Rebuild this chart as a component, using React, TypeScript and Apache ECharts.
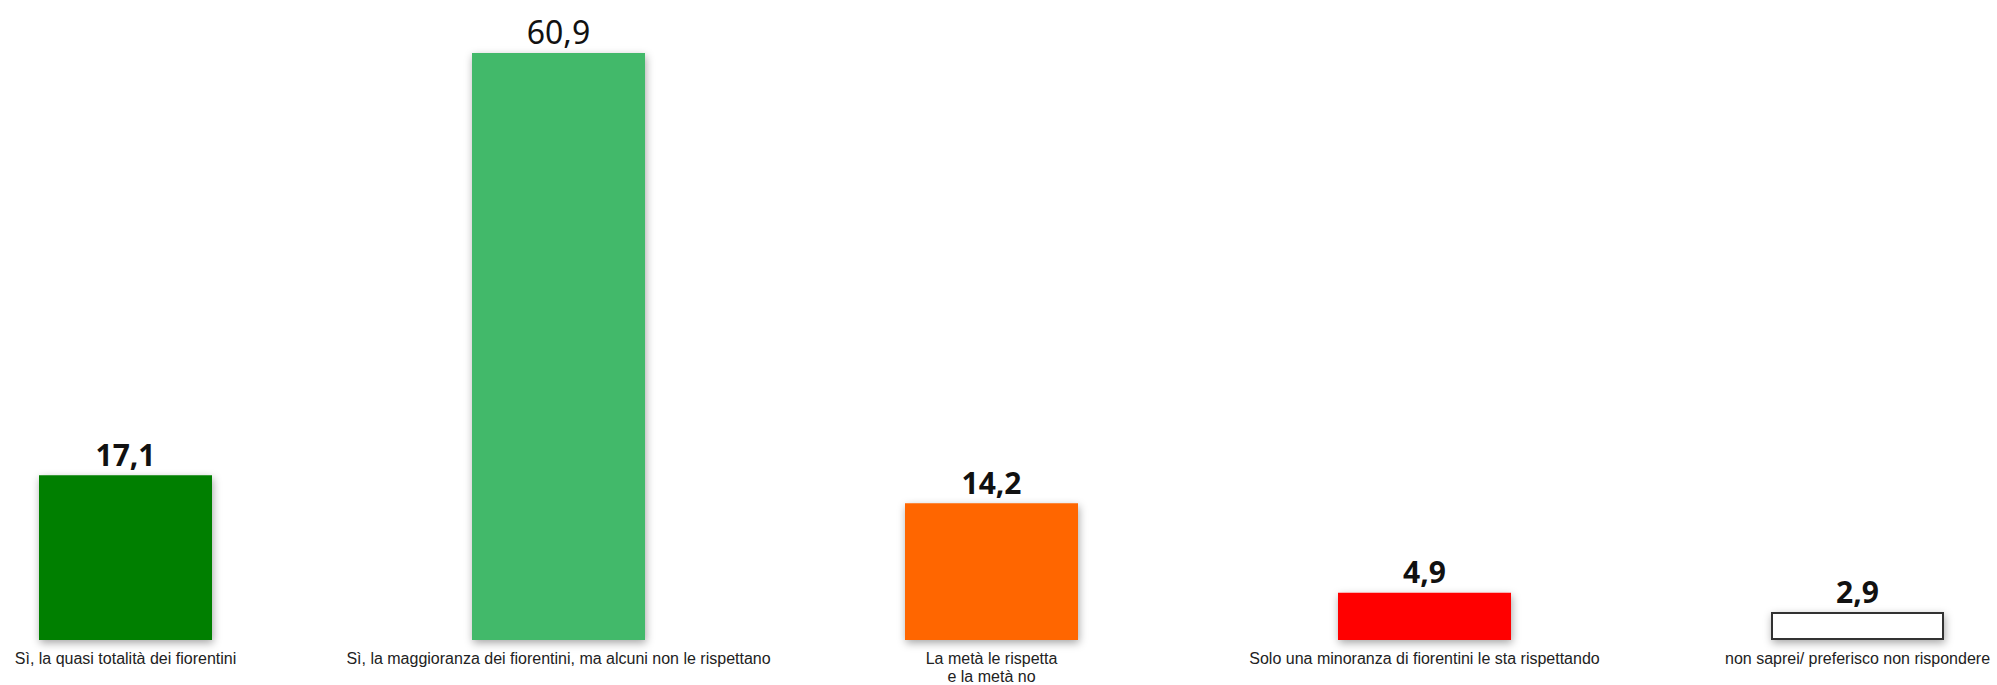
import React, { useEffect, useRef } from "react";
import * as echarts from "echarts";

const categories = [
  "Sì, la quasi totalità dei fiorentini",
  "Sì, la maggioranza dei fiorentini, ma alcuni non le rispettano",
  "La metà le rispetta\ne la metà no",
  "Solo una minoranza di fiorentini le sta rispettando",
  "non saprei/ preferisco non rispondere",
];
const values = [17.1, 60.9, 14.2, 4.9, 2.9];
const colors = ["#007f00", "#43b96b", "#ff6600", "#ff0000", "#ffffff"];

export default function App() {
  const ref = useRef<HTMLDivElement>(null);
  useEffect(() => {
    if (!ref.current) return;
    const chart = echarts.init(ref.current, null, { renderer: "svg" });
    chart.setOption({
      animation: false,
      backgroundColor: "#ffffff",
      grid: { left: 125.5, right: 139.5, top: 0, bottom: 42, containLabel: false },
      xAxis: {
        type: "category",
        data: categories,
        boundaryGap: false,
        axisLine: { show: false },
        axisTick: { show: false },
        axisLabel: {
          interval: 0,
          margin: 9,
          color: "#222",
          fontSize: 16,
          lineHeight: 18,
          fontFamily: "Liberation Sans, Arial, sans-serif",
        },
      },
      yAxis: { type: "value", min: 0, max: 66.4, show: false, splitLine: { show: false } },
      series: [
        {
          type: "bar",
          barWidth: 173,
          data: values.map((v, i) => ({
            value: v,
            itemStyle: {
              color: colors[i],
              borderColor: i === 4 ? "#333333" : undefined,
              borderWidth: i === 4 ? 2 : 0,
              shadowColor: "rgba(0,0,0,0.35)",
              shadowBlur: 8,
              shadowOffsetX: 1,
              shadowOffsetY: 3,
            },
            label: i === 1 ? { fontWeight: "normal", fontSize: 32 } : undefined,
          })),
          label: {
            show: true,
            position: "top",
            distance: 6,
            color: "#111",
            fontSize: 30,
            fontWeight: "bold",
            fontFamily: "Noto Sans, DejaVu Sans, sans-serif",
            formatter: (p: any) => String(p.value).replace(".", ","),
          },
        },
      ],
    });
    return () => chart.dispose();
  }, []);
  return (
    <div
      ref={ref}
      style={{ position: "absolute", left: 0, top: 0, width: 1997, height: 685 }}
    />
  );
}
